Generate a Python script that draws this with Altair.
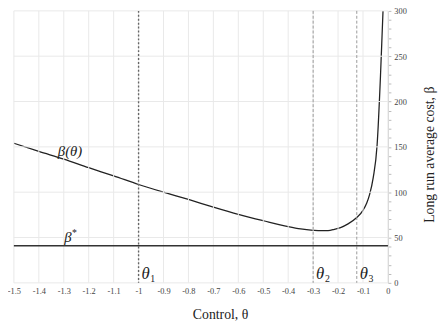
import altair as alt
import pandas as pd

# ---- data ----
theta = [-1.5, -1.4, -1.3, -1.2, -1.1, -1.0, -0.9, -0.8, -0.7, -0.6, -0.5, -0.4,
         -0.35, -0.3, -0.27, -0.24, -0.215, -0.19, -0.16, -0.125, -0.1, -0.085,
         -0.074, -0.059, -0.0435, -0.03, -0.0237, -0.0198]
beta = [154, 145, 136.5, 127, 118, 108.5, 100, 92, 83.5, 75.5, 68.5, 62,
        59.5, 58, 57.5, 57.6, 59, 61, 65, 72, 80, 88,
        97, 116, 152, 228, 272, 300]
beta_star = [41]
theta_lines = [-1.0, -0.3, -0.125]
theta_subs = ["1", "2", "3"]
x_ticks = [-1.5, -1.4, -1.3, -1.2, -1.1, -1, -0.9, -0.8, -0.7, -0.6, -0.5,
           -0.4, -0.3, -0.2, -0.1, 0]
y_ticks = list(range(0, 301, 10))
y_grid = [0, 50, 100, 150, 200, 250, 300]
curve_label = ["β(θ)"]
curve_label_pos = [(-1.275, 145)]
star_label_pos = [(-1.283, 45.5)]
theta_label_y = [4]

SERIF = "Liberation Serif, Times New Roman, serif"
X = alt.Scale(domain=[-1.5, 0], nice=False, zero=False)
Y = alt.Scale(domain=[0, 300], nice=False, zero=False)

x_axis = alt.Axis(values=x_ticks, labelExpr="toString(datum.value)", ticks=False,
                  domain=False, grid=False, labelFont=SERIF, labelFontSize=8.5,
                  labelColor="#444", labelPadding=4, labelFlush=False,
                  labelOverlap=False, title="Control, θ", titleFont=SERIF,
                  titleFontSize=14, titleFontWeight="normal", titleColor="#222",
                  titleX=210, titleY=36, titleBaseline="alphabetic",
                  titleAlign="center")
y_axis = alt.Axis(orient="right", values=y_ticks,
                  labelExpr="datum.value % 50 === 0 ? toString(datum.value) : ''",
                  tickSize=3, tickColor="#bbb", domainColor="#ccc", grid=False,
                  labelFont=SERIF, labelFontSize=8.5, labelColor="#444",
                  labelPadding=3, labelOverlap=False, labelFlush=False,
                  title="Long run average cost, β", titleFont=SERIF,
                  titleFontSize=14, titleFontWeight="normal", titleColor="#222",
                  titleAngle=270, titleX=42, titleY=146, titleAlign="center",
                  titleBaseline="middle")


def xe(field):
    return alt.X(field, scale=X, axis=x_axis)


def ye(field):
    return alt.Y(field, scale=Y, axis=y_axis)


curve = alt.Chart(pd.DataFrame({"t": theta, "b": beta})).mark_line(
    color="#222", strokeWidth=1.3, interpolate="monotone", clip=True).encode(
    x=xe("t:Q"), y=ye("b:Q"))

vgrid = alt.Chart(pd.DataFrame({"t": x_ticks})).mark_rule(
    color="#e9e9e9", strokeWidth=1).encode(x=xe("t:Q"))
hgrid = alt.Chart(pd.DataFrame({"b": y_grid})).mark_rule(
    color="#e9e9e9", strokeWidth=1).encode(y=ye("b:Q"))

df_lines = pd.DataFrame({"t": theta_lines, "s": theta_subs,
                         "b": theta_label_y * len(theta_lines)})
vline1 = alt.Chart(df_lines.iloc[:1]).mark_rule(
    color="#666", strokeWidth=1.4, strokeDash=[2, 2]).encode(x=xe("t:Q"))
vline23 = alt.Chart(df_lines.iloc[1:]).mark_rule(
    color="#999", strokeWidth=1, strokeDash=[3, 2]).encode(x=xe("t:Q"))

star = alt.Chart(pd.DataFrame({"b": beta_star})).mark_rule(
    color="#333", strokeWidth=1.5).encode(y=ye("b:Q"))

curve_txt = alt.Chart(pd.DataFrame({
    "t": [p[0] for p in curve_label_pos], "b": [p[1] for p in curve_label_pos],
    "label": curve_label})).mark_text(
    font=SERIF, fontSize=15, fontStyle="italic", color="#222",
    align="center", baseline="middle").encode(
    x=xe("t:Q"), y=ye("b:Q"), text="label:N")

df_star = pd.DataFrame({"t": [p[0] for p in star_label_pos],
                        "b": [p[1] for p in star_label_pos]})
star_b = alt.Chart(df_star).mark_text(
    font=SERIF, fontSize=15, fontStyle="italic", color="#222",
    align="center", baseline="alphabetic", text="β").encode(
    x=xe("t:Q"), y=ye("b:Q"))
star_s = alt.Chart(df_star).mark_text(
    font=SERIF, fontSize=10, color="#222", align="left",
    baseline="alphabetic", dx=4, dy=-6, text="*").encode(
    x=xe("t:Q"), y=ye("b:Q"))

th_main = alt.Chart(df_lines).mark_text(
    font=SERIF, fontSize=17, fontStyle="italic", color="#222",
    align="left", baseline="alphabetic", dx=3, text="θ").encode(
    x=xe("t:Q"), y=ye("b:Q"))
th_sub = alt.Chart(df_lines).mark_text(
    font=SERIF, fontSize=10, color="#222",
    align="left", baseline="alphabetic", dx=12, dy=3).encode(
    x=xe("t:Q"), y=ye("b:Q"), text="s:N")

chart = alt.layer(curve, vgrid, hgrid, vline1, vline23, star, curve_txt,
                  star_b, star_s, th_main, th_sub).properties(
    width=381, height=277,
    autosize=alt.AutoSizeParams(type="none"),
    padding={"left": 6, "top": 0, "right": 52, "bottom": 40},
    background="white",
).configure_view(stroke=None).configure_axis(labelOverlap=False)

chart.save("out.html", embed_options={"renderer": "svg", "actions": False})
